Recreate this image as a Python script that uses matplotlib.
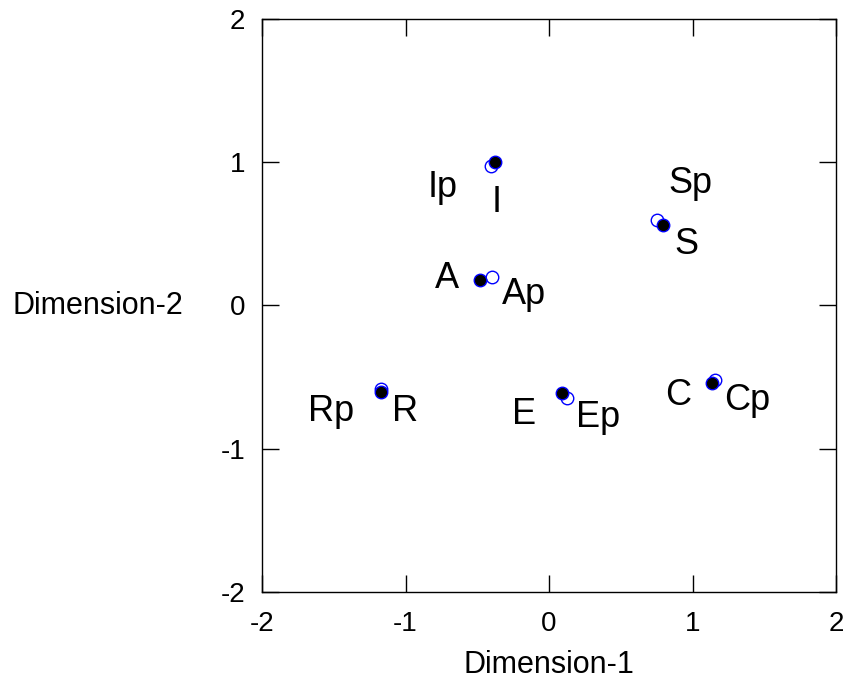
import matplotlib
matplotlib.use('Agg')
import matplotlib.pyplot as plt

plt.rcParams['font.family'] = ['Liberation Sans', 'DejaVu Sans']

# point names and coordinates (filled = observed, open = predicted "p")
names = ['I', 'A', 'S', 'R', 'E', 'C']
x_obs = [-0.374, -0.481, 0.792, -1.171, 0.091, 1.136]
y_obs = [1.000, 0.180, 0.564, -0.602, -0.608, -0.543]
x_pred = [-0.404, -0.397, 0.750, -1.174, 0.123, 1.157]
y_pred = [0.976, 0.197, 0.595, -0.586, -0.643, -0.520]

# label text and where it sits (baseline)
lab_text = ['Ip', 'I', 'A', 'Ap', 'Sp', 'S', 'Rp', 'R', 'E', 'Ep', 'C', 'Cp']
lab_x = [-0.739, -0.362, -0.711, -0.174, 0.983, 0.955, -1.519, -1.003, -0.174, 0.341, 0.899, 1.380]
lab_y = [0.760, 0.653, 0.122, 0.008, 0.785, 0.357, -0.806, -0.806, -0.827, -0.846, -0.695, -0.730]

ticks = [-2, -1, 0, 1, 2]

fig = plt.figure(figsize=(8.5, 6.84), dpi=100)
ax = fig.add_axes([262 / 850, 1 - 592 / 684, (836 - 262) / 850, (592 - 19) / 684])

ax.plot(x_pred, y_pred, 'o', markersize=9, markerfacecolor='white',
        markeredgecolor='blue', markeredgewidth=1.0, linestyle='none')
ax.plot(x_obs, y_obs, 'o', markersize=9, markerfacecolor='black',
        markeredgecolor='blue', markeredgewidth=1.0, linestyle='none')

for t, lx, ly in zip(lab_text, lab_x, lab_y):
    ax.text(lx, ly, t, fontsize=26, ha='center', va='baseline')

ax.set_xlim(-2, 2)
ax.set_ylim(-2, 2)
ax.set_xticks(ticks)
ax.set_yticks(ticks)
ax.set_xticklabels([str(t) for t in ticks])
ax.set_yticklabels([str(t) for t in ticks])
ax.tick_params(direction='in', length=12, width=1, labelsize=20,
               top=True, right=True)
ax.tick_params(axis='x', pad=14)
ax.tick_params(axis='y', pad=12)
for s in ax.spines.values():
    s.set_linewidth(1)

fig.text(549 / 850, 1 - 665 / 684, 'Dimension-1', fontsize=22, ha='center', va='center')
fig.text(98 / 850, 1 - 306 / 684, 'Dimension-2', fontsize=22, ha='center', va='center')

fig.savefig('out.png', dpi=100)
